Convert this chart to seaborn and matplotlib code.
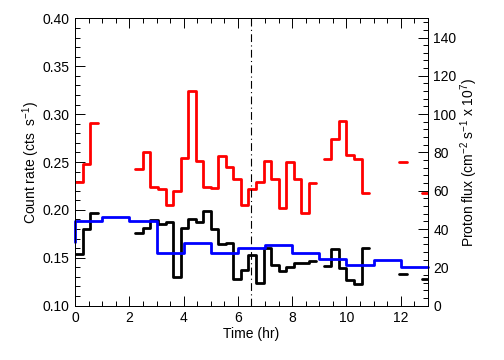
import numpy as np
import pandas as pd
import matplotlib
matplotlib.use('Agg')
import matplotlib.pyplot as plt
from matplotlib.ticker import MultipleLocator
import seaborn as sns

sns.set_style('ticks')
plt.rcParams['font.family'] = ['Liberation Sans', 'DejaVu Sans']
plt.rcParams['mathtext.fontset'] = 'custom'
plt.rcParams['mathtext.rm'] = 'Liberation Sans'
plt.rcParams['mathtext.default'] = 'regular'
plt.rc('axes', labelsize=10, edgecolor='black', linewidth=0.7, labelcolor='black')
plt.rc('xtick', labelsize=10, color='black')
plt.rc('ytick', labelsize=10, color='black')

nan = np.nan
bin_hr = 1000 / 3600.   # count-rate bins are 1000 s wide

# count rate, red source (cts/s), one value per 1000 s bin, nan = no data
rate_red = [0.229, 0.248, 0.291, nan, nan, nan, nan, nan,
            0.243, 0.260, 0.224, 0.222, 0.205, 0.220, 0.2545, 0.324,
            0.251, 0.2236, 0.223, 0.256, 0.2445, 0.232, 0.205, 0.2215,
            0.229, 0.251, 0.232, 0.202, 0.250, 0.2326, 0.1965, 0.228,
            nan, 0.2535, 0.2737, 0.2928, 0.257, 0.2535, 0.2173,
            nan, nan, nan, nan, 0.250, nan, nan, 0.2173]

# count rate, black source (cts/s)
rate_black = [0.1537, 0.1797, 0.1964, nan, nan, nan, nan, nan,
              0.1759, 0.1814, 0.1895, 0.185, 0.1877, 0.1296, 0.1808, 0.1905,
              0.187, 0.1989, 0.1797, 0.1644, 0.165, 0.1279, 0.1375, 0.153,
              0.124, 0.1605, 0.142, 0.1364, 0.1407, 0.1446, 0.1445, 0.1468,
              nan, 0.1418, 0.1592, 0.139, 0.1268, 0.1223, 0.1605,
              nan, nan, nan, nan, 0.1331, nan, nan, 0.128]

# hourly proton flux (cm^-2 s^-1 x 10^7), value for each hour starting at flux_hour
flux_hour = [-1, 0, 1, 2, 3, 4, 5, 6, 7, 8, 9, 10, 11, 12]
flux_blue = [33.1, 44.4, 46.5, 44.4, 27.7, 32.6, 27.7, 30.3, 31.7,
             27.4, 24.2, 21.2, 23.9, 20.4]

t_mark = 6.5


def binned_steps(starts, width, vals, name):
    # histogram-style outline, a new unit after every data gap
    rows = []
    seg = 0
    prev = False
    for t0, v in zip(starts, vals):
        if np.isnan(v):
            prev = False
            continue
        if not prev:
            seg += 1
        rows.append((t0, v, seg))
        rows.append((t0 + width, v, seg))
        prev = True
    return pd.DataFrame(rows, columns=['t', name, 'seg'])


n = len(rate_red)
df_red = binned_steps(np.arange(n) * bin_hr, bin_hr, rate_red, 'rate')
df_black = binned_steps(np.arange(n) * bin_hr, bin_hr, rate_black, 'rate')
df_flux = binned_steps(flux_hour, 1.0, flux_blue, 'flux')
df_flux['t'] = df_flux['t'].clip(lower=0)   # hour before start only shows as the jump at t=0

fig, ax = plt.subplots(figsize=(5.04, 3.6), dpi=100)
fig.subplots_adjust(left=0.149, right=0.849, bottom=0.151, top=0.949)

sns.lineplot(data=df_red, x='t', y='rate', units='seg', estimator=None, sort=False,
             color='#ff0000', lw=2, ax=ax, legend=False)
sns.lineplot(data=df_black, x='t', y='rate', units='seg', estimator=None, sort=False,
             color='black', lw=2, ax=ax, legend=False)
ax.axvline(t_mark, color='black', lw=0.8, ls=(0, (7, 3, 1, 3)))

ax2 = ax.twinx()
sns.lineplot(data=df_flux, x='t', y='flux', units='seg', estimator=None, sort=False,
             color='#0000ff', lw=2, ax=ax2, legend=False)
for line in ax2.lines:
    line.set_clip_on(False)

ax.set_xlim(0, 13)
ax.set_ylim(0.10, 0.40)
ax2.set_ylim(0, 150)

ax.xaxis.set_major_locator(MultipleLocator(2))
ax.xaxis.set_minor_locator(MultipleLocator(0.5))
ax.yaxis.set_major_locator(MultipleLocator(0.05))
ax.yaxis.set_minor_locator(MultipleLocator(0.01))
ax.yaxis.set_major_formatter(lambda v, p: '%.2f' % v)
ax2.yaxis.set_major_locator(MultipleLocator(20))
ax2.yaxis.set_minor_locator(MultipleLocator(4))

ax.tick_params(which='both', direction='in', top=True, right=False, width=0.7)
ax.tick_params(which='major', length=7, pad=4)
ax.tick_params(which='minor', length=3.5)
ax2.tick_params(which='both', direction='in', right=True, left=False, width=0.7)
ax2.tick_params(which='major', length=7, pad=4)
ax2.tick_params(which='minor', length=3.5)

ax.set_xlabel('Time (hr)', labelpad=1)
ax.set_ylabel('Count rate (cts  s$^{-1}$)', labelpad=0)
ax2.set_ylabel('Proton flux (cm$^{-2}$ s$^{-1}$ x 10$^{7}$)', labelpad=1)

plt.savefig('out.png', dpi=100)
